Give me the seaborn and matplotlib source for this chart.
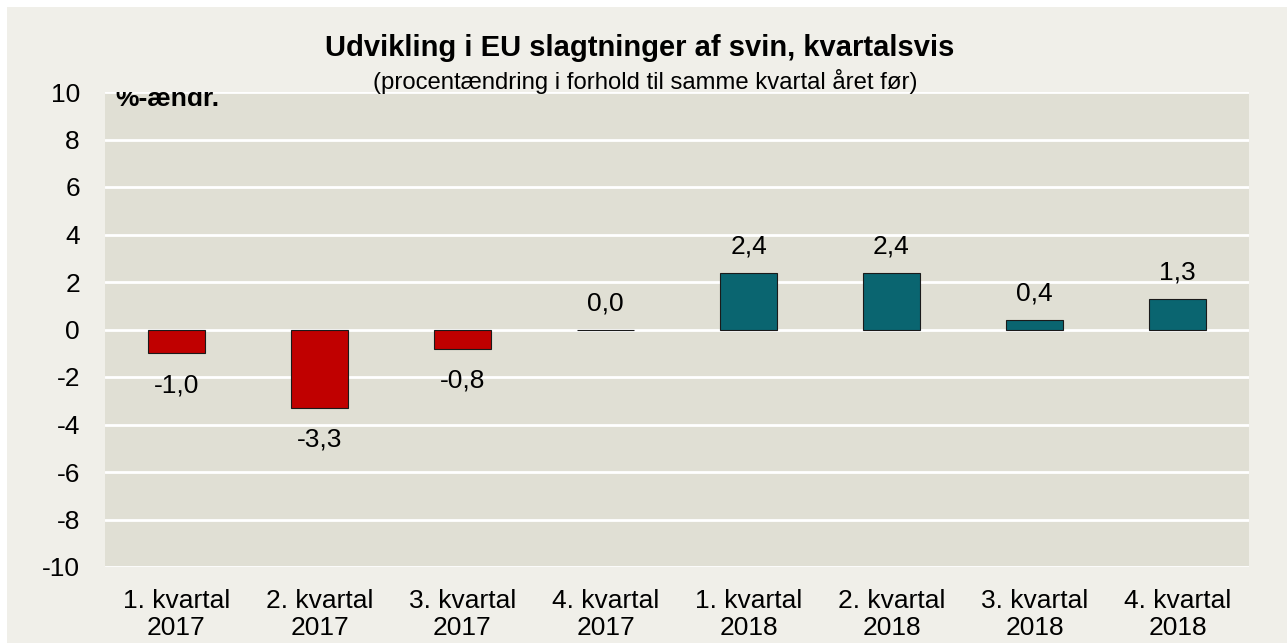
import matplotlib
matplotlib.use("Agg")
import matplotlib.pyplot as plt
import seaborn as sns
import pandas as pd
from matplotlib.patches import Rectangle

categories = ["1. kvartal\n2017", "2. kvartal\n2017", "3. kvartal\n2017", "4. kvartal\n2017",
              "1. kvartal\n2018", "2. kvartal\n2018", "3. kvartal\n2018", "4. kvartal\n2018"]
values = [-1.0, -3.3, -0.8, 0.0, 2.4, 2.4, 0.4, 1.3]
value_labels = ["-1,0", "-3,3", "-0,8", "0,0", "2,4", "2,4", "0,4", "1,3"]
y_ticks = [-10, -8, -6, -4, -2, 0, 2, 4, 6, 8, 10]

RED = "#C00000"
TEAL = "#0A6570"
bar_colors = [RED, RED, RED, TEAL, TEAL, TEAL, TEAL, TEAL]

sns.set_theme(style="white")
plt.rcParams['font.family'] = ['Liberation Sans', 'DejaVu Sans']
plt.rcParams['text.color'] = 'black'
plt.rcParams['xtick.color'] = 'black'
plt.rcParams['ytick.color'] = 'black'

FS = 19

fig = plt.figure(figsize=(12.87, 6.43), dpi=100)
fig.patch.set_facecolor("white")
bg = Rectangle((7/1287, 0), 1 - 7/1287, 1 - 7/643, transform=fig.transFigure,
               facecolor="#F0EFE9", edgecolor="none", zorder=-10)
fig.patches.append(bg)

ax = fig.add_axes([105/1287, (643-567)/643, (1249-105)/1287, (567-92)/643])
ax.set_facecolor("#E0DFD4")

df = pd.DataFrame({"cat": categories, "val": values})
sns.barplot(data=df, x="cat", y="val", hue="cat", palette=bar_colors, legend=False,
            width=0.4, saturation=1, edgecolor="#1a1a1a", linewidth=0.8, ax=ax, zorder=3)

ax.set_ylim(-10, 10)
ax.set_xlim(-0.5, len(categories) - 0.5)
ax.set_yticks(y_ticks)
ax.set_yticklabels([str(t) for t in y_ticks], fontsize=FS)
ax.tick_params(axis="y", pad=18, length=0)
ax.tick_params(axis="x", length=0, labelsize=FS, pad=16)
for lbl in ax.get_xticklabels():
    lbl.set_linespacing(1.12)
ax.set_xlabel("")
ax.set_ylabel("")
ax.yaxis.grid(True, color="white", linewidth=2, zorder=1)
ax.set_axisbelow(True)
for s in ax.spines.values():
    s.set_visible(False)

for i, (v, t) in enumerate(zip(values, value_labels)):
    if v < 0:
        ax.annotate(t, (i, v), xytext=(0, -23), textcoords="offset points",
                    ha="center", va="center", fontsize=FS, zorder=5)
    else:
        ax.annotate(t, (i, v), xytext=(0, 19), textcoords="offset points",
                    ha="center", va="center", fontsize=FS, zorder=5)

ax.text(0.009, 9.4, "%-ændr.", transform=ax.get_yaxis_transform(), ha="left", va="baseline",
        fontsize=19, fontweight="bold", zorder=6, clip_on=True)

fig.text(640/1287, 1 - 48/643, "Udvikling i EU slagtninger af svin, kvartalsvis",
         ha="center", va="center", fontsize=21, fontweight="bold")
fig.text(645/1287, 1 - 81/643, "(procentændring i forhold til samme kvartal året før)",
         ha="center", va="center", fontsize=17.2)

fig.savefig("out.png", dpi=100)
